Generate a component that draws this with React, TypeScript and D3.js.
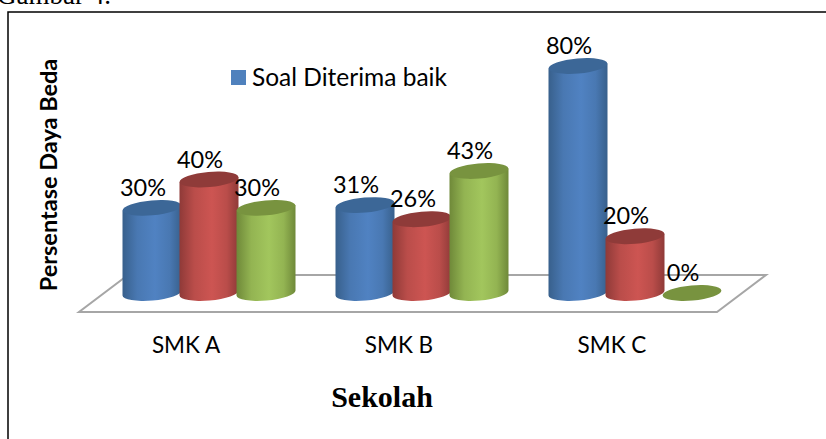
import React from "react";
import * as d3 from "d3";

const categories = ["SMK A", "SMK B", "SMK C"];
const seriesNames = ["Soal Diterima baik", "Soal Diperbaiki", "Soal Ditolak"];
const diterima = [30, 31, 80];
const diperbaiki = [40, 26, 20];
const ditolak = [30, 43, 0];
const seriesValues = [diterima, diperbaiki, ditolak];
const blue = { edge: "#38608c", mid: "#5082c2", top: "#3c6797" };
const red = { edge: "#8f3a38", mid: "#cd5552", top: "#8f3b39" };
const green = { edge: "#6f8939", mid: "#a2c65d", top: "#78933f" };
const palette = [blue, red, green];

const labelFont = "Lato, sans-serif";
const serifFont = "'Liberation Serif', serif";

// chart geometry
const x0 = d3.scaleBand().domain(categories).range([102.5, 741.5]);
const x1 = d3.scaleBand().domain(seriesNames).range([21, 192]);
const y = d3.scaleLinear().domain([0, 80]).range([293, 66]);
const rx = x1.bandwidth() / 2 + 1;
const ry = 7.5;
const tilt = -5;

// cylinder body: left side, bottom curve, right side, closed under the top ellipse
function cylinder(cx: number, top: number, base: number) {
  const dy = rx * Math.sin((-tilt * Math.PI) / 180);
  return (
    `M${cx - rx},${top + dy}L${cx - rx},${base + dy}` +
    `A${rx},${ry} ${tilt} 0 0 ${cx + rx},${base - dy}` +
    `L${cx + rx},${top - dy}Z`
  );
}

export default function App() {
  return (
    <svg
      width={826}
      height={439}
      style={{ position: "absolute", left: 0, top: 0, background: "#fff" }}
    >
      <defs>
        {palette.map((c, i) => (
          <linearGradient key={i} id={`cyl${i}`} x1="0" x2="1" y1="0" y2="0">
            <stop offset="0" stopColor={c.edge} />
            <stop offset="0.25" stopColor={d3.interpolateRgb(c.edge, c.mid)(0.7)} />
            <stop offset="0.55" stopColor={c.mid} />
            <stop offset="0.8" stopColor={d3.interpolateRgb(c.edge, c.mid)(0.7)} />
            <stop offset="1" stopColor={c.edge} />
          </linearGradient>
        ))}
      </defs>

      <text x={-3} y={4} fontFamily={serifFont} fontSize={27} fill="#000">
        Gambar 4.
      </text>
      {/* frame: only top and left edges show */}
      <path d="M826,12H8V439" fill="none" stroke="#000" strokeWidth={1.5} />

      {/* floor */}
      <path
        d={d3.line()([
          [79, 312],
          [717, 312],
          [766, 275],
          [128, 275],
        ]) + "Z"}
        fill="none"
        stroke="#a6a6a6"
        strokeWidth={2}
      />

      {categories.map((cat, ci) =>
        seriesNames.map((name, si) => {
          const v = seriesValues[si][ci];
          const c = palette[si];
          const cx = x0(cat)! + x1(name)! + x1.bandwidth() / 2;
          return (
            <g key={name + cat}>
              {v > 0 && (
                <path d={cylinder(cx, y(v), y(0))} fill={`url(#cyl${si})`} />
              )}
              <ellipse
                cx={cx}
                cy={y(v)}
                rx={rx}
                ry={ry}
                fill={c.top}
                transform={`rotate(${tilt} ${cx} ${y(v)})`}
              />
            </g>
          );
        })
      )}

      {/* labels go last, they sit over the neighbouring cylinders */}
      {categories.map((cat, ci) =>
        seriesNames.map((name, si) => {
          const v = seriesValues[si][ci];
          return (
            <text
              key={name + cat}
              x={x0(cat)! + x1(name)! + x1.bandwidth() / 2 - 9}
              y={y(v) - 12}
              textAnchor="middle"
              fontFamily={labelFont}
              fontSize={23.5}
              fill="#000"
            >
              {v}%
            </text>
          );
        })
      )}

      {categories.map((cat) => (
        <text
          key={cat}
          x={x0(cat)! + x0.bandwidth() / 2 - 23}
          y={353}
          textAnchor="middle"
          fontFamily={labelFont}
          fontSize={22.5}
          fill="#000"
        >
          {cat}
        </text>
      ))}

      <rect x={231} y={70} width={15} height={15} fill="#4f81bd" />
      <text x={252} y={86} fontFamily={labelFont} fontSize={24.5} fill="#000">
        {seriesNames[0]}
      </text>

      <text
        transform="translate(57,175) rotate(-90)"
        textAnchor="middle"
        fontFamily={labelFont}
        fontWeight={700}
        fontSize={23.5}
        fill="#000"
      >
        Persentase Daya Beda
      </text>
      <text
        x={382}
        y={407}
        textAnchor="middle"
        fontFamily={serifFont}
        fontWeight={700}
        fontSize={30}
        fill="#000"
      >
        Sekolah
      </text>
    </svg>
  );
}
